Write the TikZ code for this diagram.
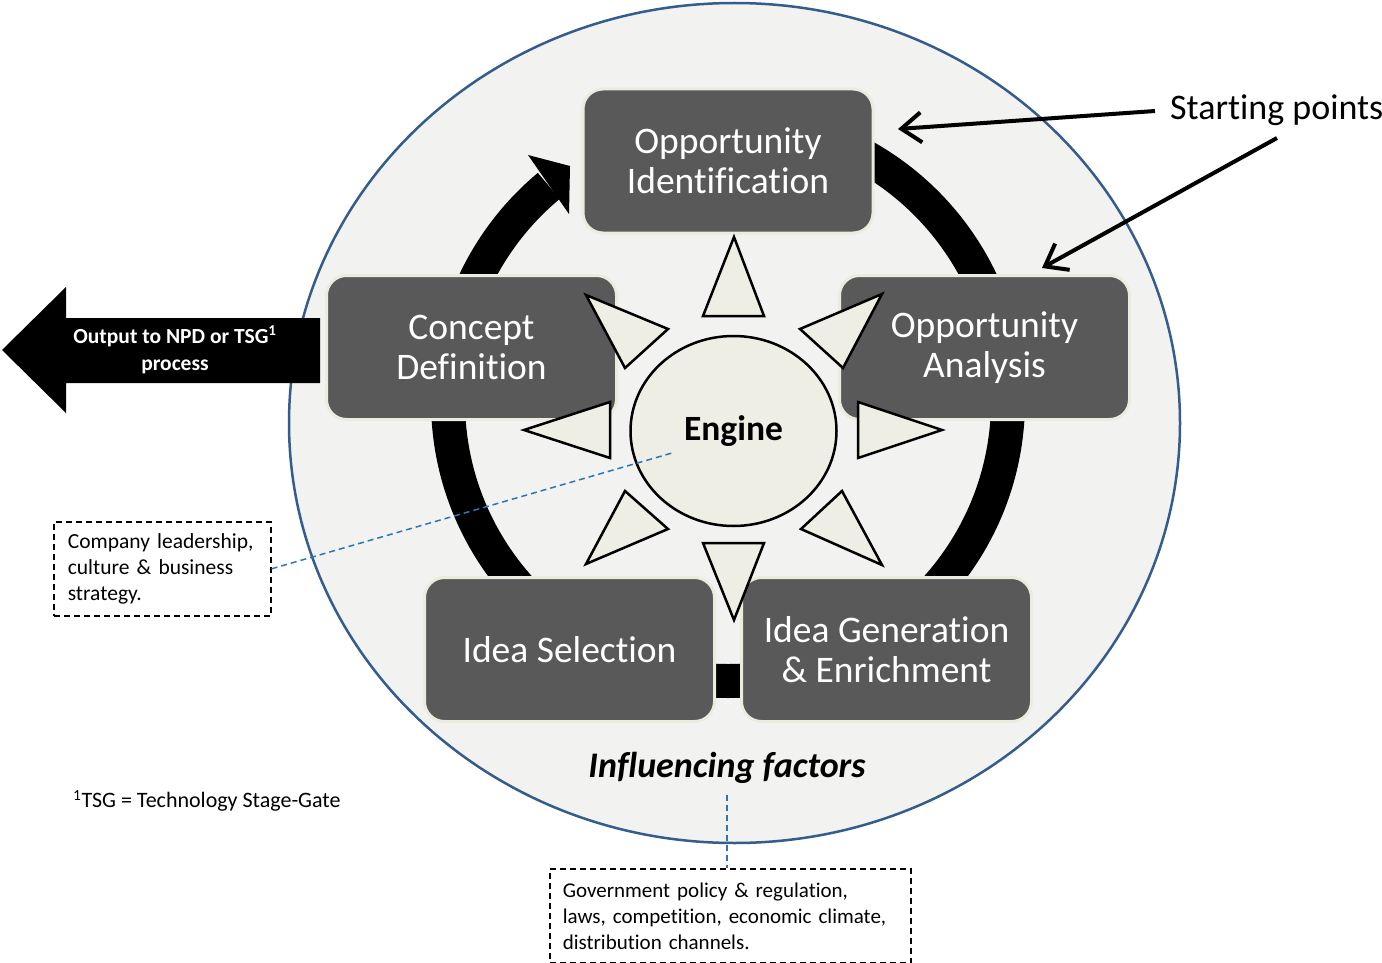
\documentclass[tikz,border=0pt]{standalone}
\usepackage{fontspec}
\setmainfont{Carlito}[Ligatures=NoCommon]
\usetikzlibrary{arrows.meta,shapes.geometric}
\definecolor{bgfill}{RGB}{242,242,240}
\definecolor{circblue}{RGB}{52,92,140}
\definecolor{boxgray}{RGB}{89,89,89}
\definecolor{boxedge}{RGB}{236,236,222}
\definecolor{cream}{RGB}{238,238,228}
\definecolor{dashblue}{RGB}{46,117,182}
\begin{document}
\begin{tikzpicture}[x=1pt,y=-1pt,
  stagebox/.style={draw=boxedge, line width=3pt, fill=boxgray, rounded corners=20pt,
    minimum width=290pt, minimum height=144pt, align=center, text=white,
    font=\fontsize{37.5}{40}\selectfont},
  tri/.style={draw=black, fill=cream, line width=2.5pt, line join=miter},
  notebox/.style={draw=black, line width=1.6pt, dash pattern=on 6pt off 4pt, fill=white,
    align=left, font=\fontsize{21.5}{26}\selectfont, inner xsep=14pt, inner ysep=8pt, anchor=north west},
  bluedash/.style={draw=dashblue, line width=1.5pt, dash pattern=on 6pt off 4pt},
  ptr/.style={line width=4pt, -{Straight Barb[length=20pt,width=30pt]}},
]
\useasboundingbox (0,0) rectangle (1382,963);
\fill[white] (0,0) rectangle (1382,963);

% outer circle of influencing factors
\node[ellipse, draw=circblue, line width=2.5pt, fill=bgfill, minimum width=891pt,
  minimum height=840pt, inner sep=0pt] (outer) at (734.5,423) {};

% black process ring with arrowhead
\coordinate (ringc) at (728,401);
\draw[line width=34pt] (ringc) ++(-90:280) arc[start angle=-90, end angle=230.2, radius=280];
\fill (528,155) -- (570,166) -- (569,214) -- cycle;

% stage boxes
\node[stagebox] (oi) at (728,161) {Opportunity\\Identification};
\node[stagebox] (cd) at (471.5,347.5) {Concept\\Definition};
\node[stagebox] (oa) at (984.5,347.5) {Opportunity\\Analysis};
\node[stagebox] (is) at (569.5,649.5) {Idea Selection};
\node[stagebox] (ig) at (886.5,649.5) {Idea Generation\\\& Enrichment};

% engine rays
\filldraw[tri] (734,237) -- (703,316) -- (764,316) -- cycle;
\filldraw[tri] (734,620) -- (703,543) -- (764,543) -- cycle;
\filldraw[tri] (942,430) -- (858,402) -- (858,458) -- cycle;
\filldraw[tri] (524,430) -- (610,402) -- (610,458) -- cycle;
\filldraw[tri] (586,295) -- (668,329) -- (625,368) -- cycle;
\filldraw[tri] (882,294) -- (800,329) -- (843,368) -- cycle;
\filldraw[tri] (586,564) -- (668,529) -- (625,491) -- cycle;
\filldraw[tri] (882,565) -- (801,529) -- (842,491) -- cycle;

% engine
\node[ellipse, draw=black, line width=2.5pt, fill=cream, minimum width=206pt,
  minimum height=190pt, inner sep=0pt, font=\bfseries\fontsize{35.5}{40}\selectfont] (engine) at (733.5,431) {Engine};

% output arrow
\fill (2,350) -- (66,287) -- (66,318) -- (320,318) -- (320,383) -- (66,383) -- (66,413) -- cycle;
\node[text=white, font=\bfseries\fontsize{21.5}{27}\selectfont, align=center] (outtxt) at (175,350)
  {Output to NPD or TSG\textsuperscript{1}\\process};

% company note
\node[notebox, minimum width=217pt, minimum height=94pt, text width=189pt] (lead) at (53,521)
  {Company leadership,\\culture \& business\\strategy.};
\draw[bluedash] (lead.east) -- ([shift={(-61.5,22)}]engine.center);

% footnote
\node[anchor=west, font=\fontsize{22}{24}\selectfont, inner sep=0pt] (fn) at (73,801)
  {\textsuperscript{1}TSG = Technology Stage-Gate};

% influencing factors
\node[font=\bfseries\itshape\fontsize{36}{40}\selectfont] (inf) at (727,768) {Influencing factors};
\node[notebox, minimum width=361pt, minimum height=94pt, text width=335pt, inner xsep=13pt,
  font=\fontsize{21}{26}\selectfont] (gov) at (549,868)
  {Government policy \& regulation,\\laws, competition, economic climate,\\distribution channels.};
\coordinate (infbot) at (727,795);
\draw[bluedash] (infbot) -- (infbot |- gov.north);

% starting points
\node[font=\fontsize{36}{40}\selectfont, inner sep=0pt, anchor=west] (sp) at (1170,110) {Starting points};
\coordinate (sp1a) at (1155,111);
\coordinate (sp1b) at (898,129);
\coordinate (sp2a) at (1277,138);
\coordinate (sp2b) at (1042,268);
\draw[ptr] (sp1a) -- (sp1b);
\draw[ptr] (sp2a) -- (sp2b);
\end{tikzpicture}
\end{document}
